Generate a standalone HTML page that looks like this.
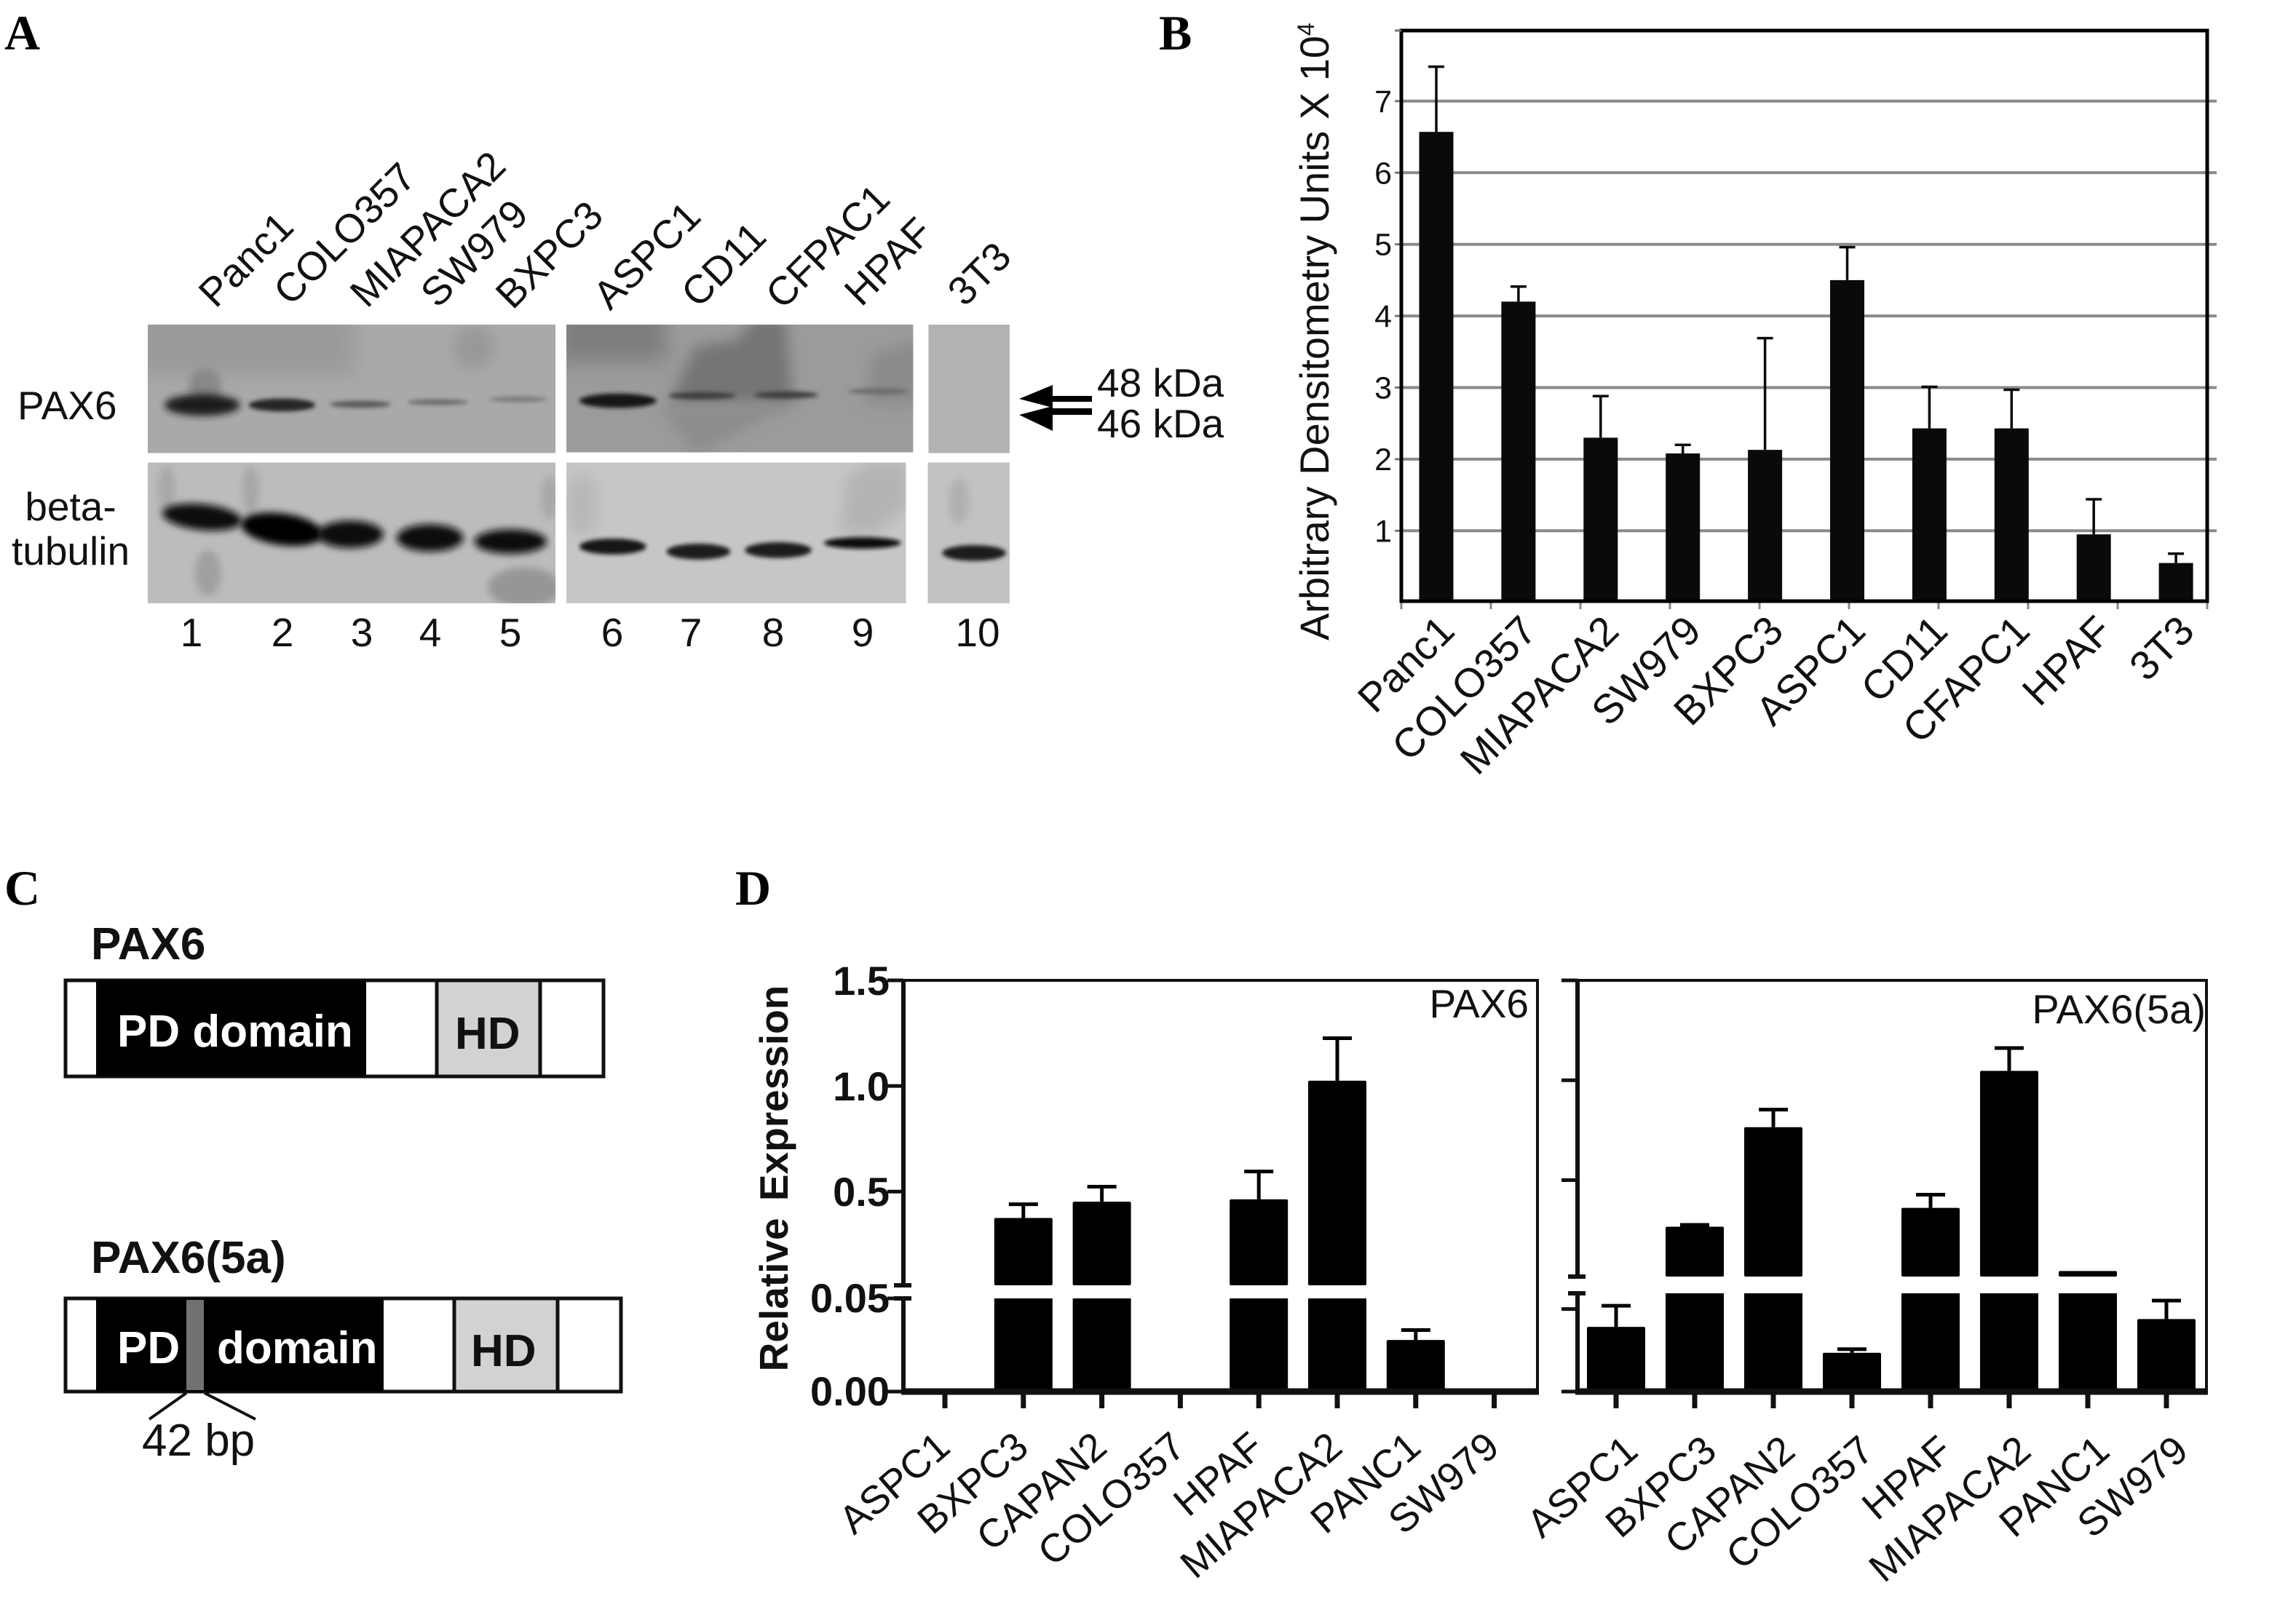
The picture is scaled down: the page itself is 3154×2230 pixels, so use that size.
<!DOCTYPE html>
<html lang="en">
<head>
<meta charset="utf-8">
<title>PAX6 expression figure</title>
<style>
html,body{margin:0;padding:0;background:#fff}
svg{display:block}
text{font-family:"Liberation Sans",sans-serif;fill:#111}
.letter{font-family:"Liberation Serif",serif;font-weight:700;font-size:68px;fill:#000}
.lab{font-size:55px}
.bold{font-weight:700;font-size:62px}
</style>
</head>
<body>
<svg id="figure" xmlns="http://www.w3.org/2000/svg" width="3154" height="2230" viewBox="0 0 3154 2230">
<defs>
<filter id="b3" x="-50%" y="-100%" width="200%" height="300%"><feGaussianBlur stdDeviation="3"/></filter>
<filter id="b5" x="-50%" y="-100%" width="200%" height="300%"><feGaussianBlur stdDeviation="5"/></filter>
<filter id="b10" x="-50%" y="-50%" width="200%" height="200%"><feGaussianBlur stdDeviation="10"/></filter>
<filter id="b14" x="-50%" y="-50%" width="200%" height="200%"><feGaussianBlur stdDeviation="14"/></filter>
<clipPath id="c1"><rect x="206" y="449" width="562" height="179"/></clipPath>
<clipPath id="c2"><rect x="783" y="449" width="478" height="178"/></clipPath>
<clipPath id="c3"><rect x="1282" y="449" width="112" height="179"/></clipPath>
<clipPath id="c4"><rect x="206" y="641" width="562" height="196"/></clipPath>
<clipPath id="c5"><rect x="783" y="641" width="468" height="196"/></clipPath>
<clipPath id="c6"><rect x="1281" y="641" width="113" height="196"/></clipPath>
</defs>
<rect width="3154" height="2230" fill="#fff"/>

<g>
<text class="letter" x="6" y="68">A</text>
<g class="lab">
<text transform="translate(296 425) rotate(-45)">Panc1</text>
<text transform="translate(399 422) rotate(-45)">COLO357</text>
<text transform="translate(504 425) rotate(-45)">MIAPACA2</text>
<text transform="translate(601 425) rotate(-45)">SW979</text>
<text transform="translate(704 427) rotate(-45)">BXPC3</text>
<text transform="translate(838 428) rotate(-45)">ASPC1</text>
<text transform="translate(959 425) rotate(-45)">CD11</text>
<text transform="translate(1075 427) rotate(-45)">CFPAC1</text>
<text transform="translate(1183 423) rotate(-45)">HPAF</text>
<text transform="translate(1325 423) rotate(-45)">3T3</text>
</g>
<g transform="translate(-2.3 2.8) scale(.9966 .987)">
<g clip-path="url(#c1)">
<rect x="206" y="449" width="562" height="179" fill="#a9a9a9"/>
<rect x="190" y="430" width="300" height="90" fill="#9a9a9a" filter="url(#b14)"/>
<ellipse cx="655" cy="480" rx="28" ry="30" fill="#989898" filter="url(#b10)"/>
<ellipse cx="285" cy="535" rx="22" ry="25" fill="#888" filter="url(#b5)"/>
<ellipse cx="281" cy="561" rx="52" ry="15" fill="#1c1c1c" filter="url(#b5)"/>
<ellipse cx="391" cy="561" rx="46" ry="9" fill="#262626" filter="url(#b3)"/>
<ellipse cx="499" cy="560" rx="42" ry="5" fill="#5a5a5a" filter="url(#b3)"/>
<ellipse cx="606" cy="557" rx="42" ry="4" fill="#6c6c6c" filter="url(#b3)"/>
<ellipse cx="717" cy="553" rx="40" ry="4" fill="#7c7c7c" filter="url(#b3)"/>
</g>
<g clip-path="url(#c2)">
<rect x="783" y="449" width="483" height="178" fill="#9b9b9b"/>
<rect x="770" y="430" width="150" height="70" fill="#7d7d7d" filter="url(#b14)"/>
<path d="M925 560 L960 480 L1020 470 L1040 440 L1085 440 L1095 560 Z" fill="#747474" filter="url(#b10)"/>
<path d="M1195 560 L1205 490 L1270 470 L1270 560 Z" fill="#8a8a8a" filter="url(#b10)"/>
<path d="M915 565 L1090 560 L1000 610 L960 630 Z" fill="#8c8c8c" filter="url(#b10)"/>
<ellipse cx="854" cy="555" rx="53" ry="10" fill="#141414" filter="url(#b3)"/>
<ellipse cx="970" cy="548" rx="46" ry="5" fill="#3c3c3c" filter="url(#b3)"/>
<ellipse cx="1086" cy="547" rx="44" ry="5" fill="#3c3c3c" filter="url(#b3)"/>
<ellipse cx="1213" cy="542" rx="42" ry="4" fill="#6a6a6a" filter="url(#b3)"/>
</g>
<g clip-path="url(#c3)">
<rect x="1282" y="449" width="112" height="179" fill="#b2b2b2"/>
</g>
<g clip-path="url(#c4)">
<rect x="206" y="641" width="562" height="196" fill="#bcbcbc"/>
<ellipse cx="232" cy="680" rx="12" ry="35" fill="#a8a8a8" filter="url(#b5)"/>
<ellipse cx="348" cy="680" rx="12" ry="35" fill="#a8a8a8" filter="url(#b5)"/>
<ellipse cx="289" cy="795" rx="18" ry="32" fill="#a0a0a0" filter="url(#b5)"/>
<ellipse cx="725" cy="815" rx="50" ry="28" fill="#969696" filter="url(#b5)"/>
<ellipse cx="760" cy="690" rx="12" ry="30" fill="#a8a8a8" filter="url(#b5)"/>
<ellipse cx="281" cy="717" rx="55" ry="18" fill="#080808" filter="url(#b5)" transform="rotate(6 281 717)"/>
<ellipse cx="391" cy="734" rx="57" ry="22" fill="#060606" filter="url(#b5)" transform="rotate(8 391 734)"/>
<ellipse cx="485" cy="741" rx="46" ry="19" fill="#0c0c0c" filter="url(#b5)"/>
<ellipse cx="595" cy="746" rx="46" ry="19" fill="#0e0e0e" filter="url(#b5)"/>
<ellipse cx="706" cy="751" rx="50" ry="17" fill="#101010" filter="url(#b5)"/>
</g>
<g clip-path="url(#c5)">
<rect x="783" y="641" width="471" height="196" fill="#c6c6c6"/>
<ellipse cx="805" cy="700" rx="22" ry="45" fill="#b8b8b8" filter="url(#b10)"/>
<path d="M1160 740 L1170 660 L1200 641 L1254 641 L1254 700 L1210 740 Z" fill="#b4b4b4" filter="url(#b10)"/>
<ellipse cx="847" cy="758" rx="46" ry="11" fill="#141414" filter="url(#b3)"/>
<ellipse cx="965" cy="765" rx="44" ry="11" fill="#1e1e1e" filter="url(#b3)"/>
<ellipse cx="1075" cy="763" rx="46" ry="11" fill="#1a1a1a" filter="url(#b3)"/>
<ellipse cx="1191" cy="753" rx="53" ry="8" fill="#101010" filter="url(#b3)"/>
</g>
<g clip-path="url(#c6)">
<rect x="1281" y="641" width="113" height="196" fill="#c2c2c2"/>
<ellipse cx="1324" cy="695" rx="14" ry="32" fill="#b0b0b0" filter="url(#b5)"/>
<ellipse cx="1345" cy="767" rx="44" ry="11" fill="#1e1e1e" filter="url(#b3)"/>
</g>
</g>
<text class="lab" x="24" y="576">PAX6</text>
<text class="lab" x="97" y="715" text-anchor="middle">beta-</text>
<text class="lab" x="97" y="776" text-anchor="middle">tubulin</text>
<g class="lab" text-anchor="middle">
<text x="263" y="888">1</text>
<text x="388" y="888">2</text>
<text x="497" y="888">3</text>
<text x="591" y="888">4</text>
<text x="701" y="888">5</text>
<text x="841" y="888">6</text>
<text x="949" y="888">7</text>
<text x="1062" y="888">8</text>
<text x="1185" y="888">9</text>
<text x="1343" y="888">10</text>
</g>
<path d="M1400 548 L1446 529 L1446 544 L1500 544 L1500 552 L1446 552 L1446 560 Z" fill="#000"/>
<path d="M1400 570 L1446 558 L1446 561 L1500 561 L1500 570 L1446 570 L1446 592 Z" fill="#000"/>
<text class="lab" x="1507" y="545">48 kDa</text>
<text class="lab" x="1507" y="601">46 kDa</text>
</g>

<g id="panel-b">
<text class="letter" x="1592" y="68">B</text>
</g>

<g>
<text class="letter" x="6" y="1243">C</text>
<text class="bold" x="125" y="1318">PAX6</text>
<g>
<rect x="90" y="1347" width="739" height="132" fill="#fff" stroke="#111" stroke-width="5"/>
<rect x="132" y="1347" width="371" height="132" fill="#000"/>
<rect x="600" y="1347" width="142" height="132" fill="#d2d2d2" stroke="#111" stroke-width="5"/>
<text class="bold" x="161" y="1438" style="fill:#fff">PD domain</text>
<text class="bold" x="625" y="1441">HD</text>
</g>
<text class="bold" x="125" y="1749">PAX6(5a)</text>
<g>
<rect x="90" y="1784" width="763" height="128" fill="#fff" stroke="#111" stroke-width="5"/>
<rect x="132" y="1784" width="395" height="128" fill="#000"/>
<rect x="256" y="1786" width="24" height="124" fill="#717171"/>
<rect x="624" y="1784" width="142" height="128" fill="#d2d2d2" stroke="#111" stroke-width="5"/>
<text class="bold" x="161" y="1873" style="fill:#fff">PD</text>
<text class="bold" x="298" y="1873" style="fill:#fff">domain</text>
<text class="bold" x="647" y="1877">HD</text>
<path d="M256 1914 L205 1950 M281 1914 L351 1950" stroke="#111" stroke-width="4" fill="none"/>
<text class="lab" x="195" y="2000" style="font-size:62px">42 bp</text>
</g>
</g>

<g id="panel-d">
<text class="letter" x="1010" y="1243">D</text>
</g>
</svg>

<script>
// Panel B data
const bCategories = ["Panc1","COLO357","MIAPACA2","SW979","BXPC3","ASPC1","CD11","CFAPC1","HPAF","3T3"];
const bValues = [6.57,4.2,2.3,2.08,2.13,4.5,2.43,2.43,0.95,0.55];
const bErrorTops = [7.48,4.41,2.88,2.2,3.69,4.96,3.01,2.97,1.44,0.68];
const bTicks = [1,2,3,4,5,6,7];

// Panel D data
const dCategories = ["ASPC1","BXPC3","CAPAN2","COLO357","HPAF","MIAPACA2","PANC1","SW979"];
const dPax6Values = [0,0.375,0.452,0,0.463,1.025,0.0277,0];
const dPax6ErrorTops = [0,0.44,0.523,0,0.595,1.226,0.033,0];
const dPax5aValues = [0.0392,0.267,0.765,0.0235,0.361,1.047,0.045,0.0439];
const dPax5aErrorTops = [0.052,0.276,0.853,0.0257,0.427,1.161,0.045,0.0551];
const dUpperTickValues = [1.5,1.0,0.5];
const dUpperTickLabels = ["1.5","1.0","0.5"];
const dLowerTickValues = [0.05,0];
const dLowerTickLabels = ["0.05","0.00"];

const NS = "http://www.w3.org/2000/svg";
function make(parent, tag, attrs, txt) {
  const el = document.createElementNS(NS, tag);
  for (const k in attrs) el.setAttribute(k, attrs[k]);
  if (txt !== undefined) el.textContent = txt;
  parent.appendChild(el);
  return el;
}
const slug = s => s.toLowerCase();

/* ---------- Panel B ---------- */
(function () {
  const root = document.getElementById("panel-b");
  const box = {l: 1925, r: 3032, t: 42, b: 826};
  const yB = v => 827.7 - v * 98.4;
  const xBar = i => 1973 + i * 112.9;
  const xTick = i => box.l + i * (box.r - box.l) / (bCategories.length - 1 + 0.0);
  bTicks.forEach(t => {
    const grid = make(root, "line", {x1: box.l, x2: 3045, y1: yB(t), y2: yB(t), stroke: "#8a8a8a", "stroke-width": 4});
    
    
    const tick = make(root, "line", {x1: box.l - 9, x2: box.l, y1: yB(t), y2: yB(t), stroke: "#777", "stroke-width": 3});
    
    
    const lab = make(root, "text", {x: 1912, y: yB(t) + 15, "text-anchor": "end", "font-size": 43}, String(t));
    
    
  });
  bCategories.forEach((c, i) => {
    const cx = xBar(i);
    const err = make(root, "path", {d: `M${cx} ${yB(bValues[i])} V${yB(bErrorTops[i])} M${cx - 11} ${yB(bErrorTops[i])} H${cx + 11}`, stroke: "#0a0a0a", "stroke-width": 3.5, fill: "none"});
    
    
    const bar = make(root, "rect", {x: cx - 23.5, y: yB(bValues[i]), width: 47, height: box.b - yB(bValues[i]), fill: "#0a0a0a"});
    
    
    const tk = make(root, "line", {x1: xTick(i), x2: xTick(i), y1: box.b, y2: box.b + 11, stroke: "#888", "stroke-width": 3});
    
    
    const lab = make(root, "text", {transform: `translate(${cx + 28} 870) rotate(-45)`, "text-anchor": "end", "font-size": 56}, c);
    
    
  });
  const frame = make(root, "rect", {x: box.l, y: box.t, width: box.r - box.l, height: box.b - box.t, fill: "none", stroke: "#000", "stroke-width": 5});
  
  
  const topTick = make(root, "line", {x1: box.l - 9, x2: box.l, y1: box.t, y2: box.t, stroke: "#777", "stroke-width": 3});
  
  
  const title = make(root, "text", {transform: "translate(1825 880) rotate(-90)", "font-size": 56});
  
  
  make(title, "tspan", {}, "Arbitrary Densitometry Units X 10");
  make(title, "tspan", {dy: -20, "font-size": 32}, "4");
})();

/* ---------- Panel D ---------- */
function drawBreakPanel(o) {
  const root = document.getElementById("panel-d");
  const T = 1347, B = 1912;
  const yU = v => T + (1.5 - v) * o.upperUnit;
  const yL = v => B - v * o.lowerUnit;
  const xc = i => o.x0 + i * o.step;
  dCategories.forEach((c, i) => {
    const v = o.values[i], e = o.errors[i], cx = xc(i);
    const broken = v >= o.breakAt;
    const yScale = broken ? yU : yL;
    if (v > 0) {
      if (e > v) {
        const err = make(root, "path", {d: `M${cx} ${yScale(v)} V${yScale(e)} M${cx - 20} ${yScale(e)} H${cx + 20}`, stroke: "#000", "stroke-width": 5, fill: "none"});
        
        
      }
      if (broken) {
        const up = make(root, "rect", {x: cx - 40, y: yU(v), width: 80, height: o.breakTop - yU(v), fill: "#000", rx: 2});
        
        
        const low = make(root, "rect", {x: cx - 40, y: o.breakBottom, width: 80, height: B - o.breakBottom, fill: "#000"});
        
        
      } else {
        const bar = make(root, "rect", {x: cx - 40, y: yL(v), width: 80, height: B - yL(v), fill: "#000", rx: 2});
        
        
      }
    }
    const tk = make(root, "line", {x1: cx, x2: cx, y1: B, y2: B + 23, stroke: "#111", "stroke-width": 7});
    
    
    const lab = make(root, "text", {transform: `translate(${cx + o.labelDx} ${o.labelY}) rotate(-41)`, "text-anchor": "end", "font-size": 54.5}, c);
    
    
  });
  // frame
  const frame = make(root, "path", {d: `M${o.l} ${T} H${o.r} V${B}`, fill: "none", stroke: "#111", "stroke-width": 4});
  
  
  const yAxisUpper = make(root, "line", {x1: o.l, x2: o.l, y1: T - 2, y2: o.breakTop, stroke: "#111", "stroke-width": o.axisW});
  
  
  const yAxisLower = make(root, "line", {x1: o.l, x2: o.l, y1: o.breakBottom, y2: B + 4, stroke: "#111", "stroke-width": o.axisW});
  
  
  const xAxis = make(root, "line", {x1: o.l - 3, x2: o.r + 2, y1: B, y2: B, stroke: "#111", "stroke-width": 9});
  
  
  // y ticks
  dUpperTickValues.forEach((t, i) => {
    const tick = make(root, "line", {x1: o.l - 22, x2: o.l, y1: yU(t), y2: yU(t), stroke: "#111", "stroke-width": 5});
    
    
    if (o.showLabels) {
      const lab = make(root, "text", {x: 1222, y: yU(t) + 20, "text-anchor": "end", "font-size": 56, "font-weight": 700}, dUpperTickLabels[i]);
      
      
    }
  });
  dLowerTickValues.forEach((t, i) => {
    const tick = make(root, "line", {x1: o.l - 22, x2: o.l, y1: yL(t), y2: yL(t), stroke: "#111", "stroke-width": 5});
    
    
    if (o.showLabels) {
      const lab = make(root, "text", {x: 1222, y: yL(t) + 19, "text-anchor": "end", "font-size": 56, "font-weight": 700}, dLowerTickLabels[i]);
      
      
    }
  });
  [o.breakTop, o.breakBottom].forEach((y, i) => {
    const mark = make(root, "line", {x1: o.l - 13, x2: o.l + 11, y1: y, y2: y, stroke: "#111", "stroke-width": 6});
    
    
  });
  const tag = make(root, "text", {x: o.tagX, y: o.tagY, "text-anchor": "end", "font-size": o.tagSize}, o.tag);
  
  
}
drawBreakPanel({id: "pax6", tag: "PAX6", tagX: 2100, tagY: 1398, tagSize: 55, values: dPax6Values, errors: dPax6ErrorTops,
  l: 1241, r: 2112, x0: 1298, step: 107.8, upperUnit: 290.2, lowerUnit: 2560, breakAt: 0.05, breakTop: 1766, breakBottom: 1784,
  labelDx: 10, labelY: 1993, axisW: 6, showLabels: true});
drawBreakPanel({id: "pax6-5a", tag: "PAX6(5a)", tagX: 3030, tagY: 1406, tagSize: 56, values: dPax5aValues, errors: dPax5aErrorTops,
  l: 2167, r: 3031, x0: 2220, step: 108, upperUnit: 274.5, lowerUnit: 2268, breakAt: 0.045, breakTop: 1754, breakBottom: 1777,
  labelDx: 33, labelY: 1998, axisW: 6, showLabels: false});
(function () {
  const root = document.getElementById("panel-d");
  const title = make(root, "text", {transform: "translate(1082 1619) rotate(-90)", "text-anchor": "middle", "font-size": 55, "font-weight": 700, "word-spacing": 8}, "Relative Expression");
  
  
})();
</script>
</body>
</html>
